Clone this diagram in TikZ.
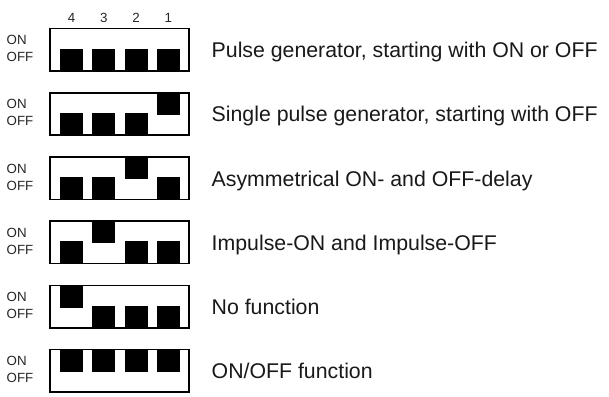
\documentclass[tikz,border=0pt]{standalone}
\usepackage{fontspec}
\setmainfont{Liberation Sans}
\begin{document}
\begin{tikzpicture}[x=1pt,y=-1pt]
\tikzset{
  switchbox/.style={draw=black, line width=1.6pt},
  lever/.style={fill=black, draw=none},
  desc/.style={anchor=base west, inner sep=0pt, font=\fontsize{21.3}{25}\selectfont, text=black!90},
  statelabel/.style={anchor=base west, inner sep=0pt, font=\fontsize{13.3}{16}\selectfont, text=black!85},
  numlabel/.style={anchor=base, inner sep=0pt, font=\fontsize{13.3}{16}\selectfont, text=black!85}
}
\useasboundingbox[fill=white] (0,0) rectangle (609,396);
% column numbers
\foreach \n [count=\c from 0] in {4,3,2,1}{
  \node[numlabel] (num\n) at (71.5+32.3*\c,23) {\n};
}
\foreach \sa/\sb/\sc/\sd/\txt [count=\r from 0] in {
  0/0/0/0/{Pulse generator, starting with ON or OFF},
  0/0/0/1/{Single pulse generator, starting with OFF},
  0/0/1/0/{Asymmetrical ON- and OFF-delay},
  0/1/0/0/{Impulse-ON and Impulse-OFF},
  1/0/0/0/{No function},
  1/1/1/1/{ON/OFF function}}{
  \pgfmathsetmacro\T{27.8+64.2*\r}
  \foreach \s [count=\c from 0] in {\sa,\sb,\sc,\sd}{
    \pgfmathsetmacro\xl{60+32.3*\c}
    \ifnum\s=1
      \fill[lever] (\xl,\T) rectangle (\xl+23,\T+23);
    \else
      \fill[lever] (\xl,\T+21) rectangle (\xl+23,\T+44);
    \fi
  }
  \draw[switchbox] (50.1,\T+0.8) rectangle (189.2,\T+43.2);
  \node[statelabel] (on\r) at (6.5,\T+16.8) {ON};
  \node[statelabel] (off\r) at (6.5,\T+33.8) {OFF};
  \node[desc] (desc\r) at (211.5,\T+29.8) {\txt};
}
\end{tikzpicture}
\end{document}
